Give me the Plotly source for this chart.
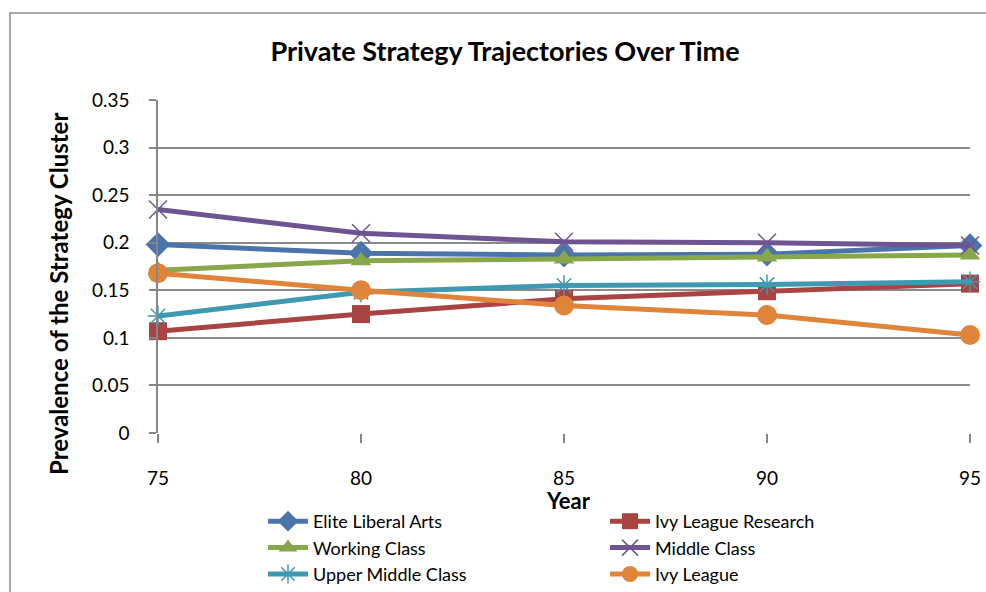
import plotly.graph_objects as go

years = [75, 80, 85, 90, 95]
elite_liberal_arts = [0.198, 0.189, 0.187, 0.188, 0.197]
ivy_league_research = [0.107, 0.125, 0.141, 0.149, 0.157]
working_class = [0.171, 0.181, 0.183, 0.185, 0.187]
middle_class = [0.235, 0.210, 0.201, 0.200, 0.197]
upper_middle_class = [0.123, 0.148, 0.155, 0.156, 0.159]
ivy_league = [0.168, 0.150, 0.134, 0.124, 0.103]

y_ticks = [0, 0.05, 0.1, 0.15, 0.2, 0.25, 0.3, 0.35]
y_tick_text = ["0", "0.05", "0.1", "0.15", "0.2", "0.25", "0.3", "0.35"]

series = [
    ("Elite Liberal Arts", elite_liberal_arts, "#4a74aa", "diamond", 19),
    ("Ivy League Research", ivy_league_research, "#aa4442", "square", 18),
    ("Working Class", working_class, "#88a74b", "triangle-up", 18),
    ("Middle Class", middle_class, "#6e5591", "x-thin-open", 18),
    ("Upper Middle Class", upper_middle_class, "#3f99b0", "asterisk-open", 17),
    ("Ivy League", ivy_league, "#e0843a", "circle", 20),
]

FONT = "Lato"
fig = go.Figure()
for name, vals, color, sym, size in series:
    open_sym = sym.endswith("open")
    fig.add_trace(go.Scatter(
        x=years, y=vals, name=name, mode="lines+markers",
        line=dict(color=color, width=5),
        marker=dict(symbol=sym, size=size, color=color,
                    line=dict(color=color, width=1.5 if open_sym else 0)),
        cliponaxis=False,
    ))

W, H = 986, 592
L, R, T, B = 158, 16, 100, 159
pw = W - L - R
ph = H - T - B

def px_x(px):
    return (px - L) / pw

def px_y(py):
    return (H - B - py) / ph

fig.update_layout(
    width=W, height=H,
    margin=dict(l=L, r=R, t=T, b=B, autoexpand=False),
    paper_bgcolor="white", plot_bgcolor="white",
    font=dict(family=FONT, color="black"),
    title=dict(text="<b>Private Strategy Trajectories Over Time</b>",
               x=505 / W, xanchor="center", y=1 - 52 / H, yanchor="middle",
               font=dict(size=27, family=FONT, color="black")),
    xaxis=dict(range=[75, 95], tickvals=years, ticktext=[str(v) for v in years],
               showgrid=False, zeroline=False, showline=False, automargin=False,
               ticks="outside", ticklen=9, tickcolor="#868686", tickwidth=1.5,
               ticklabelstandoff=19,
               tickfont=dict(size=19, family=FONT)),
    yaxis=dict(range=[0, 0.35], tickvals=y_ticks, ticktext=y_tick_text,
               showgrid=True, gridcolor="#8a8a8a", gridwidth=1.5, automargin=False,
               zeroline=False, showline=True, linecolor="#868686", linewidth=1.5,
               ticks="outside", ticklen=7, tickcolor="#868686", tickwidth=1.5,
               ticklabelstandoff=16,
               tickfont=dict(size=19, family=FONT)),
    legend=dict(orientation="h", xref="container", yref="container",
                x=263 / W, xanchor="left",
                y=1 - 503 / H, yanchor="top",
                entrywidth=287, entrywidthmode="pixels", itemwidth=40,
                font=dict(size=18, family=FONT), bgcolor="rgba(0,0,0,0)"),
    showlegend=True,
)

fig.add_annotation(text="<b>Year</b>",
                   xref="paper", yref="paper", x=px_x(568), y=px_y(500),
                   xanchor="center", yanchor="middle",
                   showarrow=False, font=dict(size=22, family=FONT, color="black"))

fig.add_annotation(text="<b>Prevalence of the Strategy Cluster</b>",
                   xref="paper", yref="paper", x=px_x(58), y=px_y(294),
                   xanchor="center", yanchor="middle", textangle=-90,
                   showarrow=False, font=dict(size=24, family=FONT, color="black"))

fig.add_shape(type="rect", xref="paper", yref="paper",
              x0=px_x(10), x1=px_x(1000), y0=px_y(600), y1=px_y(13),
              line=dict(color="#8c8c8c", width=1.5), fillcolor="rgba(0,0,0,0)",
              layer="below")

fig.write_html("out.html")
